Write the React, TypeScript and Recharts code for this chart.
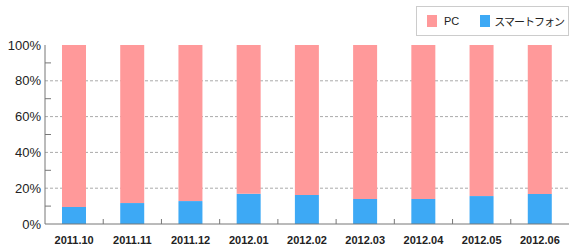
import React from 'react'
import { BarChart, Bar, XAxis, YAxis, CartesianGrid } from 'recharts'

const months = ['2011.10', '2011.11', '2011.12', '2012.01', '2012.02', '2012.03', '2012.04', '2012.05', '2012.06']
const smartphone = [9.5, 11.7, 12.8, 16.9, 16.2, 14.0, 14.0, 15.6, 16.8]
const yTicks = [0, 10, 20, 30, 40, 50, 60, 70, 80, 90, 100]
const gridValues = [20, 40, 60, 80]

const PINK = '#FF999A'
const BLUE = '#3DA9F5'
const BORDER = '#777777'
const FONT = '"Liberation Sans", Arial, sans-serif'

const data = months.map((month, i) => ({
    month,
    sp: smartphone[i],
    pc: +(100 - smartphone[i]).toFixed(1)
}))

const YTick = (props: any) => {
    const { x, y, payload } = props
    if (payload.value % 20 !== 0) {
        // minor tick, drawn inside the plot
        return <line x1={x + 4} x2={x + 10} y1={y} y2={y} stroke={BORDER} strokeWidth={1} />
    }
    return (
        <text x={x} y={y} dy={4.5} textAnchor="end" fontSize={13} fontFamily={FONT} fill="#222">
            {payload.value}%
        </text>
    )
}

const XTick = (props: any) => {
    const { x, y, payload, index } = props
    const bx = x - payload.offset
    return (
        <g>
            {index > 0 && <line x1={bx} x2={bx} y1={y} y2={y - 5} stroke={BORDER} strokeWidth={1} />}
            <text x={x} y={y + 20} textAnchor="middle" fontSize={11} fontWeight="bold" fontFamily={FONT} fill="#222">
                {payload.value}
            </text>
        </g>
    )
}

const App = () => {
    return (
        <div style={{ position: 'absolute', left: 0, top: 0, width: 580, height: 250, background: '#fff' }}>
            {/* Legend */}
            <div
                style={{
                    position: 'absolute',
                    left: 416,
                    top: 6,
                    width: 151,
                    height: 28,
                    border: '1px solid #cccccc',
                    display: 'flex',
                    alignItems: 'center',
                    fontSize: 11,
                    color: '#222',
                    fontFamily: FONT,
                    zIndex: 2,
                    background: '#fff'
                }}
            >
                <span style={{ display: 'inline-block', width: 10, height: 12, background: PINK, marginLeft: 10 }} />
                <span style={{ marginLeft: 7 }}>PC</span>
                <span style={{ display: 'inline-block', width: 10, height: 12, background: BLUE, marginLeft: 21 }} />
                <span style={{ marginLeft: 4, fontFamily: '"Noto Sans CJK JP", sans-serif', letterSpacing: -1 }}>スマートフォン</span>
            </div>

            <BarChart
                width={580}
                height={250}
                data={data}
                margin={{ top: 45, right: 11, left: 0, bottom: 0 }}
                barSize={24}
            >
                <CartesianGrid
                    vertical={false}
                    horizontalValues={gridValues}
                    stroke="#aaaaaa"
                    strokeDasharray="3 2"
                />
                <XAxis
                    dataKey="month"
                    height={26}
                    tickSize={0}
                    tickMargin={0}
                    tickLine={false}
                    axisLine={{ stroke: BORDER }}
                    tick={<XTick />}
                    interval={0}
                />
                <XAxis xAxisId="top" dataKey="month" orientation="top" height={0} tick={false} tickLine={false} axisLine={{ stroke: BORDER }} />
                <YAxis
                    width={45}
                    domain={[0, 100]}
                    ticks={yTicks}
                    interval={0}
                    tickSize={0}
                    tickMargin={4}
                    tickLine={false}
                    axisLine={{ stroke: BORDER }}
                    tick={<YTick />}
                />
                <YAxis yAxisId="right" orientation="right" width={0} domain={[0, 100]} tick={false} tickLine={false} axisLine={{ stroke: BORDER }} />
                <Bar dataKey="sp" stackId="a" fill={BLUE} isAnimationActive={false} />
                <Bar dataKey="pc" stackId="a" fill={PINK} isAnimationActive={false} />
            </BarChart>
        </div>
    )
}

export default App
